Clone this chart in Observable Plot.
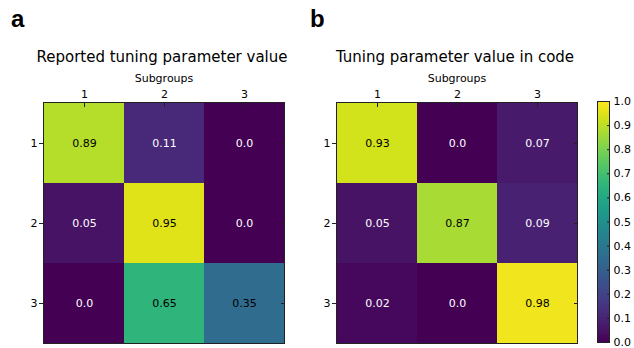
<!DOCTYPE html>
<html>
<head>
<meta charset="utf-8">
<script src="https://cdn.jsdelivr.net/npm/d3@7"></script>
<script src="https://cdn.jsdelivr.net/npm/@observablehq/plot@0.6"></script>
<style>
  html, body { margin: 0; padding: 0; background: #fff; }
  #root { position: relative; width: 634px; height: 348px; overflow: hidden; font-family: "DejaVu Sans", sans-serif; color: #000; }
  .abs { position: absolute; white-space: nowrap; line-height: 1; }
  .panel { font-family: "Liberation Sans", Arial, sans-serif; font-weight: bold; font-size: 24px; }
  .title { font-size: 15px; transform: translateX(-50%); }
  .sub { font-size: 11px; transform: translateX(-50%); }
</style>
</head>
<body>
<div id="root"></div>
<script>
const cols = [1, 2, 3];
const rows = [1, 2, 3];
const reported = [
  [0.89, 0.11, 0.0],
  [0.05, 0.95, 0.0],
  [0.0, 0.65, 0.35]
];
const inCode = [
  [0.93, 0.0, 0.07],
  [0.05, 0.87, 0.09],
  [0.02, 0.0, 0.98]
];
const barTicks = [0, 0.1, 0.2, 0.3, 0.4, 0.5, 0.6, 0.7, 0.8, 0.9, 1.0];
const titles = ["Reported tuning parameter value", "Tuning parameter value in code"];
const panelLetters = ["a", "b"];
const axisLabel = "Subgroups";

const root = document.getElementById("root");
const colorOpts = {type: "linear", scheme: "viridis", domain: [0, 1]};
const fmt = v => v === 0 ? "0.0" : v.toFixed(2);

function table(m) {
  const out = [];
  rows.forEach((r, i) => cols.forEach((c, j) => out.push({row: r, col: c, v: m[i][j]})));
  return out;
}

function heat(m, mLeft, mRight) {
  const data = table(m);
  return Plot.plot({
    width: 300, height: 348,
    marginLeft: mLeft, marginRight: mRight, marginTop: 102, marginBottom: 5,
    style: {fontFamily: "DejaVu Sans", fontSize: "11px", color: "#000", background: "transparent"},
    x: {type: "band", domain: cols, padding: 0, axis: null},
    y: {type: "band", domain: rows, padding: 0, axis: null},
    color: colorOpts,
    marks: [
      Plot.cell(data, {x: "col", y: "row", fill: "v"}),
      Plot.text(data, {x: "col", y: "row", text: d => fmt(d.v), filter: d => d.v >= 0.2, fill: "black", fontSize: 11}),
      Plot.text(data, {x: "col", y: "row", text: d => fmt(d.v), filter: d => d.v < 0.2, fill: "white", fontSize: 11}),
      Plot.frame({stroke: "#222", strokeWidth: 1}),
      Plot.axisX({anchor: "top", tickSize: 0, tickPadding: 5, label: null}),
      Plot.axisX({anchor: "top", tickSize: -4, tickFormat: () => "", label: null, stroke: "#222"}),
      Plot.axisY({anchor: "left", tickSize: 4, tickPadding: 2, label: null, stroke: "#222"}),
      Plot.axisY({anchor: "right", tickSize: -4, tickFormat: () => "", label: null, stroke: "#222"})
    ]
  });
}

function colorbar() {
  return Plot.plot({
    width: 54, height: 348,
    marginLeft: 17, marginRight: 25, marginTop: 101, marginBottom: 6,
    style: {fontFamily: "DejaVu Sans", fontSize: "11px", color: "#000", background: "transparent"},
    x: {domain: [0, 1], axis: null},
    y: {domain: [0, 1], axis: null},
    color: colorOpts,
    marks: [
      Plot.raster({x1: 0, x2: 1, y1: 0, y2: 1, width: 1, height: 256, fill: (x, y) => y, imageRendering: "auto"}),
      Plot.frame({stroke: "#222", strokeWidth: 1}),
      Plot.axisY(barTicks, {anchor: "right", tickSize: 0, tickPadding: 4, tickFormat: d3.format(".1f"), label: null}),
      Plot.axisY(barTicks, {anchor: "right", tickSize: -3, tickFormat: () => "", label: null, stroke: "#222"})
    ]
  });
}

function place(el, left, top) {
  el.style.position = "absolute";
  el.style.left = left + "px";
  el.style.top = top + "px";
  root.appendChild(el);
  return el;
}
function label(text, cls, left, top) {
  const d = document.createElement("div");
  d.className = "abs " + cls;
  d.textContent = text;
  return place(d, left, top);
}

place(heat(reported, 43, 16), 0, 0);
place(heat(inCode, 36, 23), 300, 0);
place(colorbar(), 580, 0);

label(panelLetters[0], "panel", 11, 7);
label(panelLetters[1], "panel", 310, 7);
label(titles[0], "title", 162, 50);
label(titles[1], "title", 455, 50);
label(axisLabel, "sub", 164, 73);
label(axisLabel, "sub", 457, 73);
</script>
</body>
</html>
